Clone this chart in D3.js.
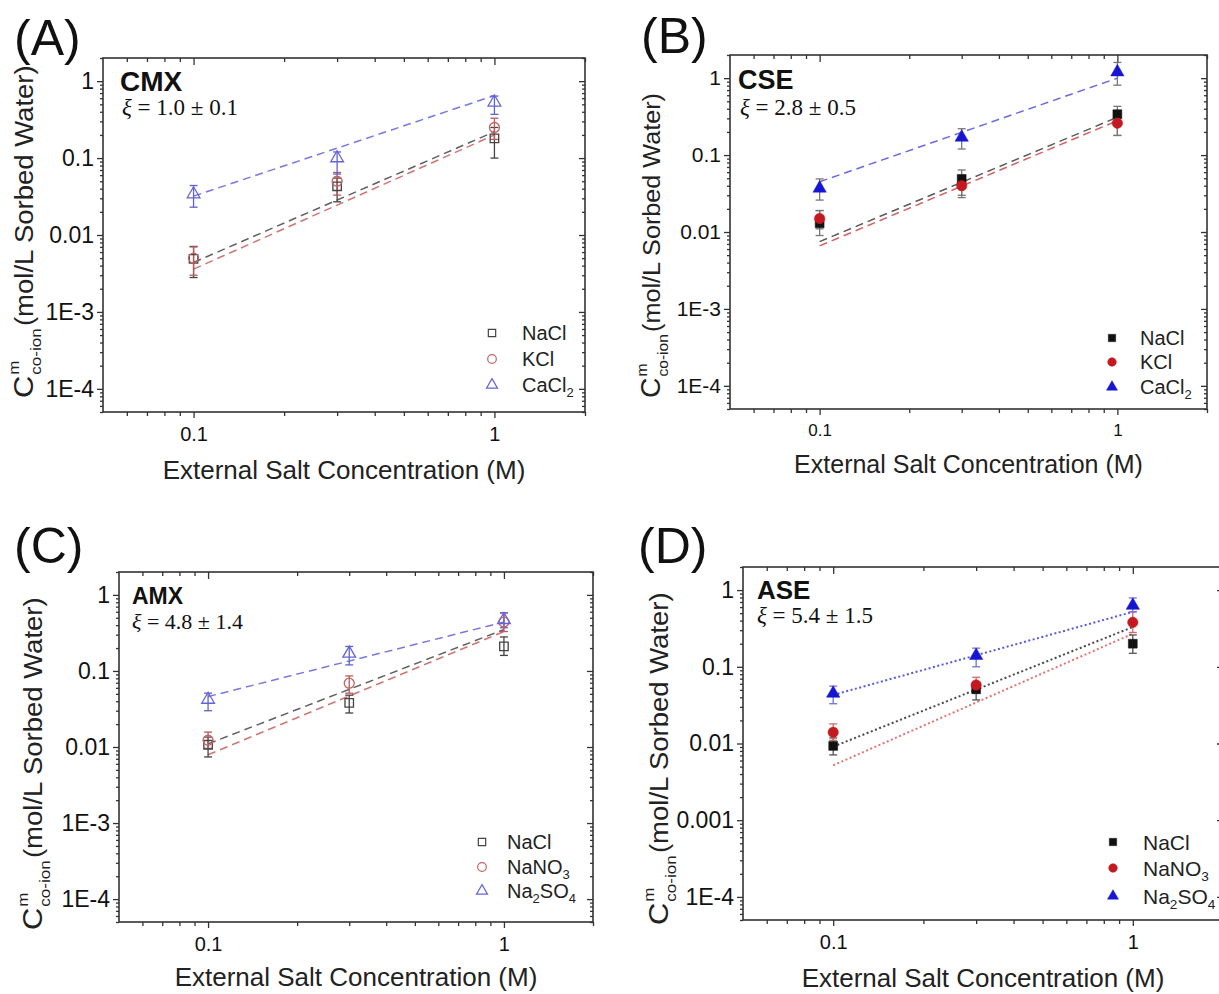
<!DOCTYPE html>
<html><head><meta charset="utf-8">
<script src="https://cdn.jsdelivr.net/npm/d3@7"></script>
<style>
body{margin:0;background:#fff}
svg{display:block;font-family:"Liberation Sans",Arial,sans-serif}
</style>
</head><body>
<svg id="chart" width="1219" height="994"></svg>
<script>
// ================= DATA =================
const concentrations = [0.1, 0.3, 1];          // external salt concentration (M)
const fitEnds = [0.1, 1];                       // x-range of the fitted lines
const panelLetters = ["(A)", "(B)", "(C)", "(D)"];
const membraneNames = ["CMX", "CSE", "AMX", "ASE"];
const xiTexts = [" = 1.0 ± 0.1", " = 2.8 ± 0.5", " = 4.8 ± 1.4", " = 5.4 ± 1.5"];
const saltsCation = ["NaCl", "KCl", "CaCl_2"];
const saltsAnion = ["NaCl", "NaNO_3", "Na_2SO_4"];
const xTickValues = [0.1, 1];
const xTickLabels = ["0.1", "1"];
const yTickValues = [1e-4, 1e-3, 0.01, 0.1, 1];
const yTickLabelsE = ["1E-4", "1E-3", "0.01", "0.1", "1"];
const yTickLabelsD = ["1E-4", "0.001", "0.01", "0.1", "1"];
const xTitle = "External Salt Concentration (M)";

// CMX (A): rows = NaCl, KCl, CaCl2 ; columns = 0.1, 0.3, 1 M
const cmxMean = [[0.0049, 0.043, 0.18], [0.0050, 0.050, 0.25], [0.034, 0.10, 0.53]];
const cmxLow  = [[0.0028, 0.027, 0.10], [0.0030, 0.033, 0.175], [0.023, 0.062, 0.37]];
const cmxHigh = [[0.0071, 0.055, 0.25], [0.0070, 0.065, 0.33], [0.044, 0.12, 0.64]];
const cmxFit  = [[0.0044, 0.22], [0.0036, 0.20], [0.032, 0.65]];

// CSE (B)
const cseMean = [[0.013, 0.049, 0.34], [0.015, 0.040, 0.26], [0.037, 0.17, 1.2]];
const cseLow  = [[0.009, 0.028, 0.18], [0.011, 0.030, 0.18], [0.026, 0.12, 0.81]];
const cseHigh = [[0.019, 0.064, 0.43], [0.019, 0.050, 0.33], [0.049, 0.22, 1.6]];
const cseFit  = [[0.0075, 0.31], [0.0066, 0.28], [0.045, 1.0]];

// AMX (C): rows = NaCl, NaNO3, Na2SO4
const amxMean = [[0.0107, 0.038, 0.21], [0.0123, 0.069, 0.44], [0.042, 0.17, 0.47]];
const amxLow  = [[0.0074, 0.028, 0.16], [0.0096, 0.051, 0.33], [0.030, 0.12, 0.37]];
const amxHigh = [[0.0135, 0.048, 0.28], [0.0157, 0.086, 0.58], [0.051, 0.21, 0.58]];
const amxFit  = [[0.011, 0.35], [0.0079, 0.33], [0.046, 0.44]];

// ASE (D)
const aseMean = [[0.0093, 0.051, 0.20], [0.014, 0.058, 0.38], [0.045, 0.14, 0.63]];
const aseLow  = [[0.0071, 0.037, 0.15], [0.011, 0.045, 0.28], [0.033, 0.10, 0.52]];
const aseHigh = [[0.0118, 0.062, 0.26], [0.018, 0.073, 0.52], [0.056, 0.175, 0.79]];
const aseFit  = [[0.0091, 0.33], [0.0052, 0.27], [0.043, 0.52]];

// ================= LAYOUT / STYLE =================
const panelSeries = [
  {mean: cmxMean, low: cmxLow, high: cmxHigh, fit: cmxFit, salts: saltsCation, yLabels: yTickLabelsE},
  {mean: cseMean, low: cseLow, high: cseHigh, fit: cseFit, salts: saltsCation, yLabels: yTickLabelsE},
  {mean: amxMean, low: amxLow, high: amxHigh, fit: amxFit, salts: saltsAnion, yLabels: yTickLabelsE},
  {mean: aseMean, low: aseLow, high: aseHigh, fit: aseFit, salts: saltsAnion, yLabels: yTickLabelsD}
];

const openStyle = {
  filled: false,
  marker: ["#444", "#c46262", "#6464d6"],
  bar: ["#444", "#b85a5a", "#6060d0"],
  line: ["#606060", "#d27474", "#7878e2"],
  dash: "8,5", lineWidth: 1.5
};
const layouts = [
  {frame: [103, 58, 585, 412], letter: [14, 55], title: [120, 91, 28], xi: [122, 115, 23],
   legend: {x: 492, ys: [333, 359, 385], tx: 522, fs: 20}, yTitle: [33, 398, 25, 1.1],
   xTitle: [479, 26], tickFsX: 20, tickFsY: 23, style: openStyle},
  {frame: [730, 55, 1207, 409], letter: [641, 53], title: [738, 89, 27], xi: [740, 115, 23],
   legend: {x: 1112, ys: [338, 362, 387], tx: 1140, fs: 20}, yTitle: [660, 398, 24, 1.05],
   xTitle: [473, 25], tickFsX: 17, tickFsY: 21,
   style: {filled: true, marker: ["#111", "#c41a1f", "#1616d2"], bar: ["#777", "#777", "#777"],
           line: ["#5a5a5a", "#d46060", "#6a6ae0"], dash: "8,5", lineWidth: 1.5}},
  {frame: [119, 572, 593, 922], letter: [14, 563], title: [132, 604, 23], xi: [132, 629, 22],
   legend: {x: 482, ys: [842, 867, 891], tx: 507, fs: 20}, yTitle: [42, 930, 25, 1.1],
   xTitle: [986, 26], tickFsX: 20, tickFsY: 23, style: openStyle},
  {frame: [743, 567, 1223, 920], letter: [638, 563], title: [757, 599, 26], xi: [757, 623, 23],
   legend: {x: 1113, ys: [842, 868, 896], tx: 1143, fs: 21}, yTitle: [668, 925, 25, 1.1],
   xTitle: [987, 26], tickFsX: 20, tickFsY: 23,
   style: {filled: true, marker: ["#111", "#c41a1f", "#1616d2"], bar: ["#555", "#d06a6a", "#7070e0"],
           line: ["#4a4a4a", "#e27474", "#5858e2"], dash: "2,2.5", lineWidth: 2}}
];

const symbolTypes = [d3.symbolSquare, d3.symbolCircle, d3.symbolTriangle];
const symbolSizes = [72, 78, 70];

const svg = d3.select("#chart");

function addSubText(textSel, label, fs) {
  // label uses "_d" to denote a subscript digit
  const parts = label.split(/(_\d)/).filter(p => p.length);
  const shift = fs * 0.25;
  let lowered = false;
  parts.forEach(p => {
    if (p.startsWith("_")) {
      textSel.append("tspan").attr("dy", shift).style("font-size", (fs * 0.65) + "px").text(p.slice(1));
      lowered = true;
    } else {
      const t = textSel.append("tspan").text(p);
      if (lowered) { t.attr("dy", -shift); lowered = false; }
    }
  });
}

function drawPanel(i) {
  const L = layouts[i], S = panelSeries[i], st = L.style;
  const [x0, y0, x1, y1] = L.frame;
  const g = svg.append("g");
  const x = d3.scaleLog().domain([0.05, 2]).range([x0, x1]);
  const y = d3.scaleLog().domain([5e-5, 2]).range([y1, y0]);

  const isMajor = v => xTickValues.some(t => Math.abs(t - v) < 1e-9);
  const xMinor = x.ticks().filter(v => !isMajor(v) && v > 0.0501 && v < 1.999);
  xMinor.push(2);
  const yMinor = y.ticks().filter(v => Math.abs(Math.log10(v) - Math.round(Math.log10(v))) > 1e-6);

  const axes = g.append("g").attr("class", "axes");
  function axisGroup(axisFn, transform) {
    const a = axes.append("g").attr("transform", transform).call(axisFn);
    a.select(".domain").remove();
    a.selectAll("line").attr("stroke", "#333").attr("stroke-width", 1.3);
    return a;
  }
  // bottom (outward)
  const bx = axisGroup(d3.axisBottom(x).tickValues(xTickValues).tickSize(6).tickPadding(9)
      .tickFormat((d, k) => xTickLabels[k]), `translate(0,${y1})`);
  bx.selectAll("text").attr("fill", "#111").style("font-size", L.tickFsX + "px")
      .style("font-family", "Liberation Sans, Arial, sans-serif");
  axisGroup(d3.axisBottom(x).tickValues(xMinor).tickSize(4).tickFormat(""), `translate(0,${y1})`);
  // top (inward)
  axisGroup(d3.axisTop(x).tickValues(xTickValues).tickSize(-7).tickFormat(""), `translate(0,${y0})`);
  axisGroup(d3.axisTop(x).tickValues(xMinor).tickSize(-4).tickFormat(""), `translate(0,${y0})`);
  // left (outward)
  const ly = axisGroup(d3.axisLeft(y).tickValues(yTickValues).tickSize(6).tickPadding(3)
      .tickFormat((d, k) => S.yLabels[k]), `translate(${x0},0)`);
  ly.selectAll("text").attr("fill", "#111").style("font-size", L.tickFsY + "px")
      .style("font-family", "Liberation Sans, Arial, sans-serif");
  axisGroup(d3.axisLeft(y).tickValues(yMinor).tickSize(3).tickFormat(""), `translate(${x0},0)`);
  // right (inward)
  axisGroup(d3.axisRight(y).tickValues(yTickValues).tickSize(-6).tickFormat(""), `translate(${x1},0)`);
  axisGroup(d3.axisRight(y).tickValues(yMinor).tickSize(-3).tickFormat(""), `translate(${x1},0)`);

  // frame
  g.append("rect").attr("x", x0).attr("y", y0).attr("width", x1 - x0).attr("height", y1 - y0)
    .attr("fill", "none").attr("stroke", "#333").attr("stroke-width", 1.6);

  // fitted lines
  const line = d3.line().x(d => x(d[0])).y(d => y(d[1]));
  S.fit.forEach((f, s) => {
    g.append("path").datum(fitEnds.map((c, k) => [c, f[k]])).attr("d", line)
      .attr("fill", "none").attr("stroke", st.line[s]).attr("stroke-width", st.lineWidth)
      .attr("stroke-dasharray", st.dash);
  });

  // error bars
  S.mean.forEach((row, s) => {
    const eb = g.append("g").attr("stroke", st.bar[s]).attr("stroke-width", 1.3);
    row.forEach((v, k) => {
      const cx = x(concentrations[k]);
      const yl = y(S.low[s][k]), yh = y(S.high[s][k]);
      eb.append("line").attr("x1", cx).attr("x2", cx).attr("y1", yl).attr("y2", yh);
      eb.append("line").attr("x1", cx - 4).attr("x2", cx + 4).attr("y1", yl).attr("y2", yl);
      eb.append("line").attr("x1", cx - 4).attr("x2", cx + 4).attr("y1", yh).attr("y2", yh);
    });
  });

  // markers
  S.mean.forEach((row, s) => {
    const sym = d3.symbol().type(symbolTypes[s]).size(symbolSizes[s] * (st.filled ? 1.1 : 1));
    g.append("g").selectAll("path").data(row).join("path")
      .attr("transform", (v, k) => `translate(${x(concentrations[k])},${y(v)})`)
      .attr("d", sym)
      .attr("fill", st.filled ? st.marker[s] : "none")
      .attr("stroke", st.marker[s]).attr("stroke-width", st.filled ? 0.5 : 1.3);
  });

  // legend
  const lg = g.append("g");
  S.salts.forEach((name, s) => {
    const ly0 = L.legend.ys[s];
    const sym = d3.symbol().type(symbolTypes[s]).size(symbolSizes[s] * 0.75);
    lg.append("path").attr("transform", `translate(${L.legend.x},${ly0})`).attr("d", sym)
      .attr("fill", st.filled ? st.marker[s] : "none").attr("stroke", st.marker[s])
      .attr("stroke-width", st.filled ? 0.5 : 1.2);
    const t = lg.append("text").attr("x", L.legend.tx).attr("y", ly0 + L.legend.fs * 0.36)
      .style("font-size", L.legend.fs + "px").attr("fill", "#222");
    addSubText(t, name, L.legend.fs);
  });

  // membrane name and xi
  g.append("text").attr("x", L.title[0]).attr("y", L.title[1]).style("font-size", L.title[2] + "px")
    .style("font-weight", "bold").attr("fill", "#111").text(membraneNames[i]);
  const xi = g.append("text").attr("x", L.xi[0]).attr("y", L.xi[1])
    .style("font-family", "Liberation Serif, Times New Roman, serif").style("font-size", L.xi[2] + "px")
    .attr("fill", "#111");
  xi.append("tspan").style("font-style", "italic").text("ξ");
  xi.append("tspan").text(xiTexts[i]);

  // panel letter
  svg.append("text").attr("x", L.letter[0]).attr("y", L.letter[1]).style("font-size", "50px")
    .attr("fill", "#111").text(panelLetters[i]);

  // x title
  g.append("text").attr("x", (x0 + Math.min(x1, 1223)) / 2).attr("y", L.xTitle[0])
    .attr("text-anchor", "middle").style("font-size", L.xTitle[1] + "px").attr("fill", "#222").text(xTitle);

  // y title
  const [tx, ty, fs, stretch] = L.yTitle;
  const yt = g.append("g").attr("transform", `translate(${tx},${ty}) rotate(-90) scale(${stretch},1)`)
    .attr("fill", "#222");
  const cT = yt.append("text").attr("x", 0).attr("y", 0).style("font-size", (fs * 1.12) + "px").text("C");
  const cw = cT.node().getComputedTextLength();
  yt.append("text").attr("x", cw + 1).attr("y", -fs * 0.55).style("font-size", (fs * 0.62) + "px").text("m");
  const sub = yt.append("text").attr("x", cw + 1).attr("y", fs * 0.32).style("font-size", (fs * 0.62) + "px").text("co-ion");
  const sw = sub.node().getComputedTextLength();
  yt.append("text").attr("x", cw + 1 + sw + 2).attr("y", 0).style("font-size", fs + "px").text("(mol/L Sorbed Water)");
}

[0, 1, 2, 3].forEach(drawPanel);
</script>
</body></html>
